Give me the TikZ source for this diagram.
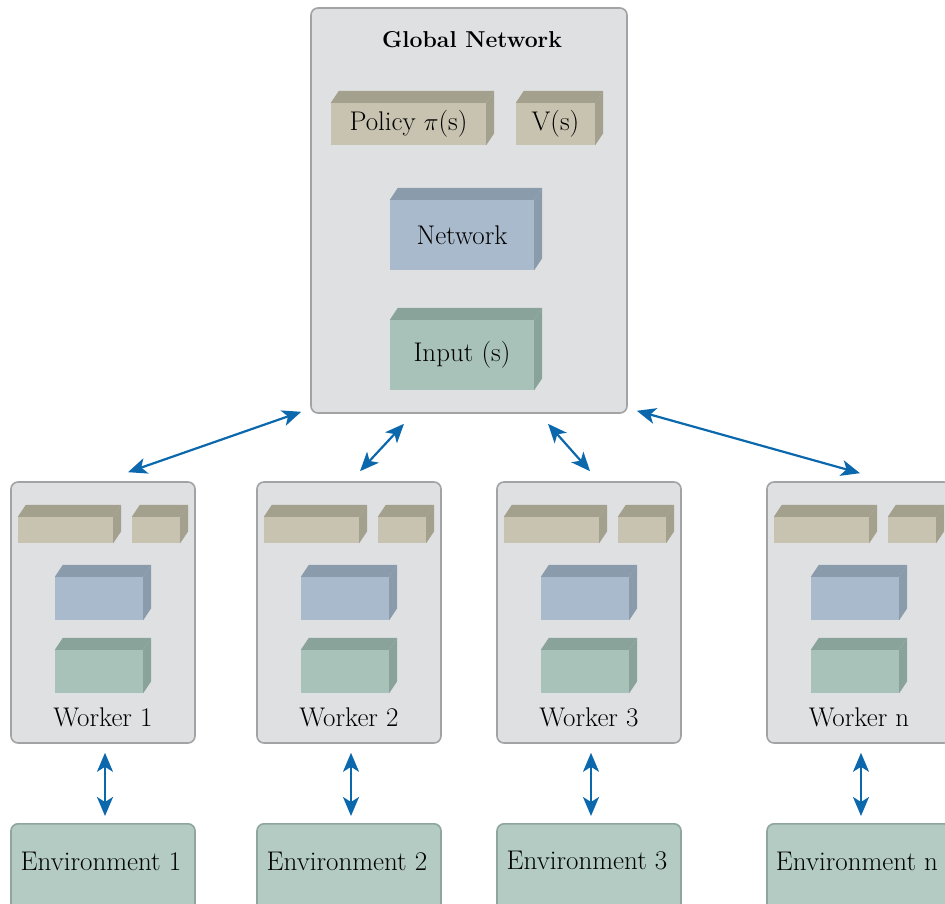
\documentclass[tikz,border=0pt]{standalone}
\usepackage{fontspec}
\usetikzlibrary{calc,arrows.meta}
\definecolor{boxfill}{HTML}{DFE0E2}
\definecolor{boxline}{HTML}{A2A3A5}
\definecolor{polfront}{HTML}{C7C3B0}
\definecolor{poldark}{HTML}{A3A08E}
\definecolor{netfront}{HTML}{A8BACB}
\definecolor{netdark}{HTML}{8A9BAB}
\definecolor{inpfront}{HTML}{A8C2BA}
\definecolor{inpdark}{HTML}{8AA39A}
\definecolor{envfill}{HTML}{B3CBC3}
\definecolor{envline}{HTML}{8FA59E}
\definecolor{arrowblue}{HTML}{0B68AD}
\tikzset{
  txt/.style={font=\fontsize{27}{32}\selectfont, inner sep=0pt},
  panel/.style={draw=boxline, fill=boxfill, line width=1.6pt, rounded corners=7pt, inner sep=0pt},
  envbox/.style={draw=envline, fill=envfill, line width=1.6pt, rounded corners=7pt, inner sep=0pt},
  cubefront/.style={inner sep=0pt, font=\fontsize{27}{32}\selectfont},
  conn/.style={draw=arrowblue, line width=2.2pt, {Stealth[length=19pt,width=16pt,inset=5pt]}-{Stealth[length=19pt,width=16pt,inset=5pt]}}
}
% name, x1, y1, x2, y2, front colour, dark colour, text
\newcommand\cub[8]{%
  \node[cubefront, fill=#6, minimum width={(#4)-(#2)}, minimum height={(#5)-(#3)}] (#1) at ({((#2)+(#4))/2},{((#3)+(#5))/2}) {#8};
  \fill[#7] (#1.north west) -- ++(8,-12) -- ([shift={(8,-12)}]#1.north east) -- (#1.north east) -- cycle;
  \fill[#7] (#1.north east) -- ++(8,-12) -- ([shift={(8,-12)}]#1.south east) -- (#1.south east) -- cycle;
}
\begin{document}
\begin{tikzpicture}[x=1pt,y=-1pt]
\useasboundingbox (0,0) rectangle (945,904);
\begin{scope}
\clip (0,0) rectangle (945,904);
% global network
\node[panel, minimum width=316, minimum height=405] (g) at (469,210.5) {};
\node[txt, font=\fontsize{23}{28}\selectfont\bfseries] (gt) at (472,40) {Global Network};
\cub{gp}{331}{103}{486}{145}{polfront}{poldark}{Policy $\pi$(s)}
\cub{gv}{516}{103}{595}{145}{polfront}{poldark}{V(s)}
\cub{gn}{390}{200}{534}{270}{netfront}{netdark}{Network}
\cub{gi}{390}{320}{534}{390}{inpfront}{inpdark}{Input (s)}
% workers and environments
\foreach \i/\L in {1/11, 2/257, 3/497, n/767}{
  \node[panel, minimum width=184, minimum height=261] (w\i) at ({\L+92},612.5) {};
  \cub{w\i p}{\L+7}{517}{\L+102}{543}{polfront}{poldark}{}
  \cub{w\i v}{\L+121}{517}{\L+169}{543}{polfront}{poldark}{}
  \cub{w\i n}{\L+44}{577}{\L+132}{620}{netfront}{netdark}{}
  \cub{w\i i}{\L+44}{650}{\L+132}{693}{inpfront}{inpdark}{}
  \node[txt] (w\i t) at ({\L+92},717) {Worker \i};
  \node[envbox, anchor=north, minimum width=184, minimum height=160] (e\i) at ({\L+92},823) {};
  \node[txt] (e\i t) at ({\L+90},861) {Environment \i};
  \draw[conn] ($(w\i.south)+(2,9)$) -- ($(e\i.north)+(2,-7)$);
}
% global <-> workers
\draw[conn] ($(w1.north)+(25,-9)$) -- ($(g.south west)+(-9,-2)$);
\draw[conn] ($(w2.north)+(11,-10)$) -- ($(g.south)+(-65,10)$);
\draw[conn] ($(g.south)+(79,10)$) -- ($(w3.north)+(1,-10)$);
\draw[conn] ($(g.south east)+(9,-3)$) -- ($(wn.north)+(1,-8)$);
\end{scope}
\end{tikzpicture}
\end{document}
